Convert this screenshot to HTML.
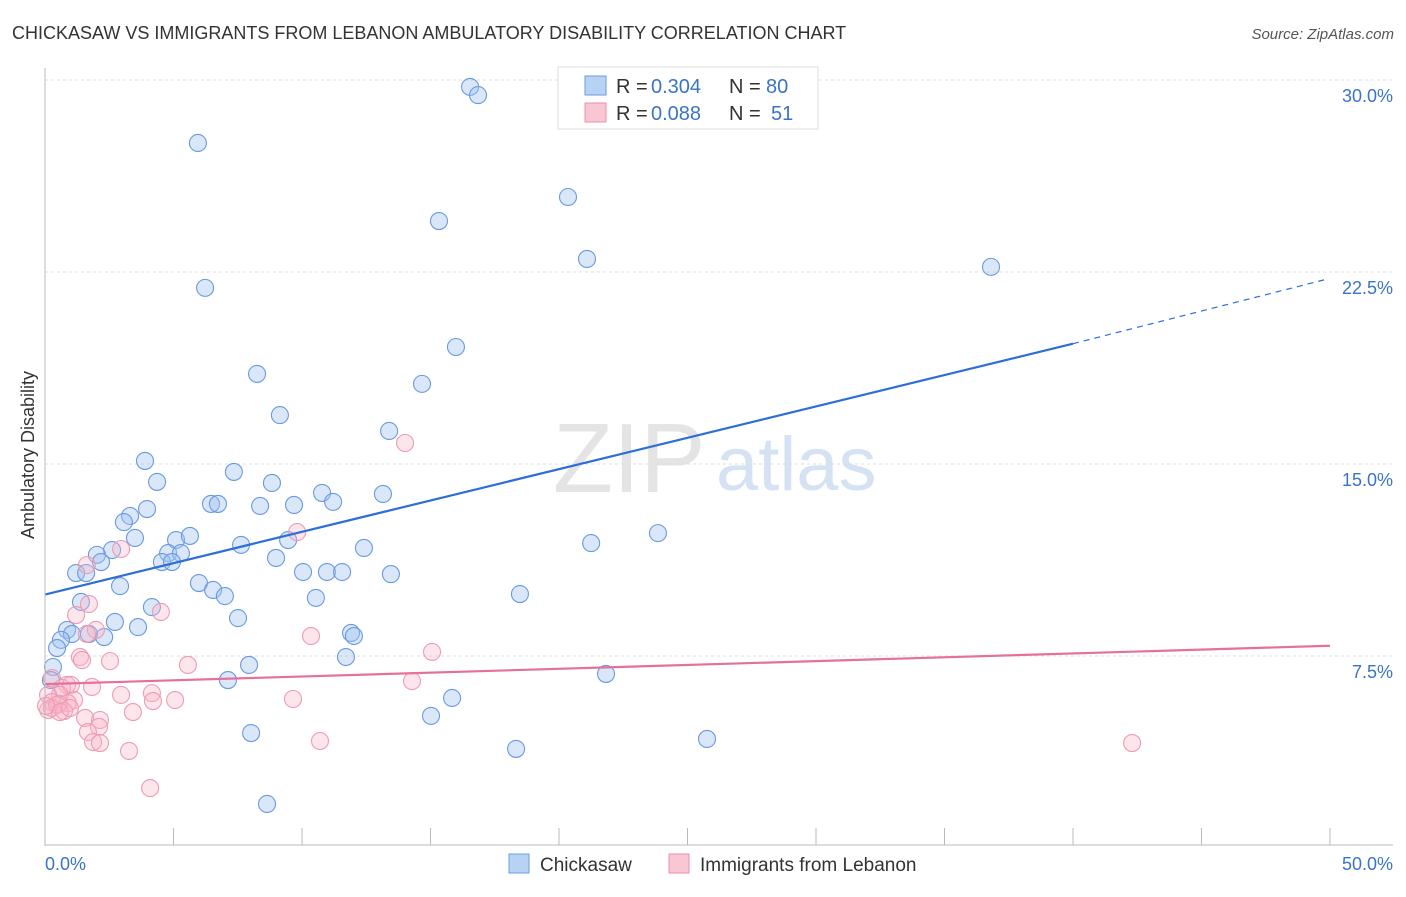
<!DOCTYPE html>
<html><head><meta charset="utf-8"><style>
body{margin:0;background:#fff;font-family:"Liberation Sans",sans-serif;}
svg text{font-family:"Liberation Sans",sans-serif;}
</style></head><body>
<svg width="1406" height="892" id="c">
<text x="12" y="39" font-size="18" fill="#333">CHICKASAW VS IMMIGRANTS FROM LEBANON AMBULATORY DISABILITY CORRELATION CHART</text>
<text x="1394" y="39" font-size="15" fill="#555" font-style="italic" text-anchor="end">Source: ZipAtlas.com</text>
<text x="34" y="455" font-size="18" fill="#333" text-anchor="middle" transform="rotate(-90 34 455)">Ambulatory Disability</text>
<text x="553" y="492" font-size="98" fill="#e4e4e4" font-family="Liberation Serif">ZIP</text>
<text x="716" y="490" font-size="76" fill="#d4e2f4">atlas</text>
<g id="grid"></g><g id="pts"></g><g id="lines"></g>
<line x1="45" y1="68" x2="45" y2="846" stroke="#bbb"/>
<line x1="45" y1="845" x2="1393" y2="845" stroke="#bbb"/>
<text x="45" y="870" font-size="18" fill="#3a74c8">0.0%</text>
<text x="1393" y="870" font-size="18" fill="#3a74c8" text-anchor="end">50.0%</text>
<g>
<rect x="558" y="67" width="260" height="62" fill="#fff" stroke="#ddd"/>
<rect x="585" y="76" width="21" height="19" fill="#b8d2f4" stroke="#6a9ee0"/>
<rect x="585" y="103" width="21" height="19" fill="#f9c6d4" stroke="#ec8fab"/>
<text x="616" y="93" font-size="20" fill="#333">R =</text>
<text x="651" y="93" font-size="20" fill="#3a74c8">0.304</text>
<text x="729" y="93" font-size="20" fill="#333">N =</text>
<text x="766" y="93" font-size="20" fill="#3a74c8">80</text>
<text x="616" y="120" font-size="20" fill="#333">R =</text>
<text x="651" y="120" font-size="20" fill="#3a74c8">0.088</text>
<text x="729" y="120" font-size="20" fill="#333">N =</text>
<text x="771" y="120" font-size="20" fill="#3a74c8">51</text>
</g>
<g>
<rect x="509" y="854" width="20" height="19" fill="#b8d2f4" stroke="#6a9ee0"/>
<text x="540" y="871" font-size="19" fill="#333">Chickasaw</text>
<rect x="669" y="854" width="20" height="19" fill="#f9c6d4" stroke="#ec8fab"/>
<text x="700" y="871" font-size="19" fill="#333">Immigrants from Lebanon</text>
</g>
</svg>
<script>
const yTicks=[7.5,15,22.5,30];
const yTickLabels=["7.5%","15.0%","22.5%","30.0%"];
const xTicks=[0,5,10,15,20,25,30,35,40,45,50];
const bluePx=[[470,87],[478,95],[198,143],[568,197],[439,221],[587,259],[991,267],[205,288],[456,347],[257,374],[422,384],[280,415],[389,431],[145,461],[234,472],[157,482],[272,483],[322,493],[383,494],[211,504],[218,504],[333,502],[260,506],[147,509],[294,505],[130,516],[124,522],[658,533],[288,540],[135,538],[176,540],[190,536],[241,545],[591,543],[364,548],[168,553],[181,553],[112,550],[97,555],[162,562],[172,562],[101,562],[276,558],[76,573],[86,573],[303,572],[327,572],[342,572],[391,574],[120,586],[199,583],[213,590],[225,596],[316,598],[520,594],[81,602],[152,607],[238,618],[115,622],[138,627],[67,630],[72,634],[351,633],[354,636],[89,634],[104,637],[61,640],[57,648],[346,657],[249,665],[53,667],[606,674],[228,680],[51,680],[452,698],[431,716],[251,733],[707,739],[516,749],[267,804]];
const pinkPx=[[405,443],[297,532],[121,549],[87,565],[89,604],[161,612],[76,615],[311,636],[96,630],[87,634],[80,657],[110,661],[82,660],[188,665],[432,652],[52,678],[67,685],[62,688],[71,685],[92,687],[412,681],[121,695],[152,693],[60,695],[48,695],[74,700],[52,702],[68,703],[293,699],[175,700],[153,701],[59,704],[48,710],[52,708],[57,705],[64,711],[133,712],[85,718],[100,720],[99,727],[88,732],[93,742],[100,743],[129,751],[320,741],[1132,743],[150,788],[60,712],[70,708],[46,706]];
const blueX=bluePx.map(p=>+((p[0]-45)/25.7).toFixed(2));
const blueY=bluePx.map(p=>+((848-p[1])/25.6).toFixed(2));
const pinkX=pinkPx.map(p=>+((p[0]-45)/25.7).toFixed(2));
const pinkY=pinkPx.map(p=>+((848-p[1])/25.6).toFixed(2));
const blueTrend=[9.9,19.7,22.2];
const pinkTrend=[6.4,7.9];
const sx=v=>45+v*25.7, sy=v=>848-v*25.6;
const NS="http://www.w3.org/2000/svg";
function mk(t,a,parent){const e=document.createElementNS(NS,t);for(const k in a)e.setAttribute(k,a[k]);document.getElementById(parent).appendChild(e);return e;}
yTicks.forEach((t,i)=>{
 const l=mk('line',{x1:45,x2:1393,y1:sy(t),y2:sy(t),stroke:'#ddd','stroke-dasharray':'3,3'},'grid');
 
 
 const tx=mk('text',{x:1393,y:sy(t)+22,'font-size':18,fill:'#3a74c8','text-anchor':'end'},'grid');
 tx.textContent=yTickLabels[i];
 
 
});
xTicks.forEach(t=>{
 const l=mk('line',{x1:sx(t),x2:sx(t),y1:828,y2:845,stroke:'#bbb'},'grid');
 
 
});
blueX.forEach((x,i)=>{
 const c=mk('circle',{cx:sx(x),cy:sy(blueY[i]),r:8.5,fill:'rgba(160,196,240,0.4)',stroke:'#6a9ade','stroke-width':1.1},'pts');
 
 
});
pinkX.forEach((x,i)=>{
 const c=mk('circle',{cx:sx(x),cy:sy(pinkY[i]),r:8.5,fill:'rgba(248,180,200,0.35)',stroke:'#ec9cb4','stroke-width':1.1},'pts');
 
 
});
const b1=mk('line',{x1:sx(0),y1:sy(blueTrend[0]),x2:sx(40),y2:sy(blueTrend[1]),stroke:'#2e6fd6','stroke-width':2.2},'lines');


const b2=mk('line',{x1:sx(40),y1:sy(blueTrend[1]),x2:sx(49.8),y2:sy(blueTrend[2]),stroke:'#2e6fd6','stroke-width':1.2,'stroke-dasharray':'6,5'},'lines');


const p1=mk('line',{x1:sx(0),y1:sy(pinkTrend[0]),x2:sx(50),y2:sy(pinkTrend[1]),stroke:'#e5709a','stroke-width':2.2},'lines');


</script>
</body></html>
